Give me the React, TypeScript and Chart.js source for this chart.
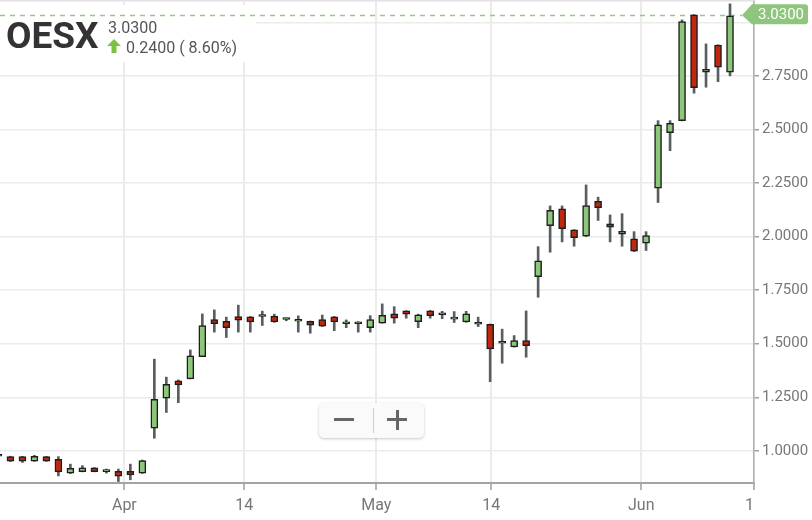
import React, { useEffect, useRef } from 'react';
import { Chart, registerables } from 'chart.js';

Chart.register(...registerables);

// ---- data ----
const symbol = 'OESX';
const lastPriceText = '3.0300';
const changeText = '0.2400 ( 8.60%)';

// candle index of the first value below (Apr 1 2019 = 0, trading days)
const firstIndex = -11;
const opens = [
  0.975, 0.973, 0.973, 0.952, 0.973, 0.961, 0.896, 0.903, 0.921, 0.903, 0.905,
  0.905, 0.896, 1.106, 1.246, 1.327, 1.336, 1.44, 1.613, 1.605, 1.627,
  1.625, 1.627, 1.629, 1.613, 1.605, 1.605, 1.613, 1.625, 1.593, 1.593,
  1.575, 1.596, 1.639, 1.653, 1.603, 1.653, 1.635, 1.615, 1.602, 1.591,
  1.591, 1.502, 1.485, 1.515, 1.813, 2.051, 2.129, 2.031, 2.002, 2.165,
  2.059, 2.011, 1.989, 1.969, 2.226, 2.485, 2.541, 3.035, 2.767, 2.894, 2.767,
];
const highs = [
  0.978, 0.975, 0.974, 0.979, 0.974, 0.973, 0.938, 0.931, 0.922, 0.915, 0.915,
  0.938, 0.957, 1.428, 1.344, 1.331, 1.471, 1.639, 1.658, 1.624, 1.68,
  1.627, 1.652, 1.638, 1.62, 1.63, 1.606, 1.634, 1.627, 1.611, 1.603,
  1.631, 1.686, 1.673, 1.654, 1.638, 1.655, 1.651, 1.65, 1.651, 1.624,
  1.592, 1.568, 1.538, 1.653, 1.953, 2.143, 2.143, 2.032, 2.241, 2.184,
  2.101, 2.107, 2.023, 2.023, 2.541, 2.541, 3.011, 3.036, 2.899, 2.895, 3.086,
];
const lows = [
  0.972, 0.95, 0.946, 0.951, 0.951, 0.883, 0.894, 0.902, 0.902, 0.896, 0.857,
  0.865, 0.895, 1.059, 1.179, 1.225, 1.336, 1.44, 1.554, 1.529, 1.554,
  1.554, 1.585, 1.6, 1.607, 1.554, 1.549, 1.58, 1.561, 1.575, 1.554,
  1.554, 1.596, 1.596, 1.619, 1.575, 1.619, 1.617, 1.599, 1.6, 1.58,
  1.323, 1.409, 1.484, 1.437, 1.717, 1.927, 1.975, 1.955, 2.0, 2.075,
  1.975, 1.955, 1.93, 1.935, 2.159, 2.401, 2.54, 2.669, 2.697, 2.723, 2.75,
];
const closes = [
  0.975, 0.952, 0.952, 0.975, 0.952, 0.902, 0.919, 0.921, 0.903, 0.903, 0.882,
  0.888, 0.955, 1.241, 1.311, 1.308, 1.443, 1.585, 1.594, 1.575, 1.61,
  1.602, 1.627, 1.602, 1.613, 1.605, 1.587, 1.582, 1.602, 1.593, 1.593,
  1.613, 1.633, 1.619, 1.638, 1.635, 1.631, 1.635, 1.615, 1.639, 1.591,
  1.476, 1.502, 1.515, 1.491, 1.887, 2.123, 2.037, 1.995, 2.145, 2.135,
  2.044, 2.025, 1.932, 2.005, 2.521, 2.529, 3.003, 2.695, 2.781, 2.79, 3.03,
];

const xTickPositions = [-0.5, 9.5, 20.5, 30.1, 42.6, 52];
const xTickLabels = ['Apr', '14', 'May', '14', 'Jun', '14'];
const yTickValues = [1.0, 1.25, 1.5, 1.75, 2.0, 2.25, 2.5, 2.75, 3.0];
const xMin = -10.87;
const xMax = 52;
const yMin = 0.85;
const yMax = 3.104;

// ---- styles ----
const UP = '#8cc77a';
const DOWN = '#c1270d';
const BORDER = '#1e1e1e';
const WICK = '#5a5e62';
const GRID = '#ebebeb';
const LABEL = '#777777';
const PRICE_BOX = '#8dc67c';
const PRICE_LINE = '#94cb83';
const FONT = 'Roboto, "Noto Sans", sans-serif';

const overlayPlugin = {
  id: 'overlay',
  beforeDatasetsDraw(chart: any) {
    const { ctx, chartArea, scales } = chart;
    ctx.save();
    // top frame line
    ctx.strokeStyle = '#e2e2e2';
    ctx.lineWidth = 1.5;
    ctx.beginPath();
    ctx.moveTo(chartArea.left, chartArea.top + 0.75);
    ctx.lineTo(chartArea.right, chartArea.top + 0.75);
    ctx.stroke();
    // title backdrop
    ctx.fillStyle = '#ffffff';
    ctx.fillRect(0, 5, 256, 57);
    // last price dashed line
    const last = closes[closes.length - 1];
    const yc = Math.round(scales.y.getPixelForValue(last)) - 0.5;
    ctx.strokeStyle = PRICE_LINE;
    ctx.lineWidth = 1.5;
    ctx.setLineDash([5, 5]);
    ctx.beginPath();
    ctx.moveTo(chartArea.left, yc);
    ctx.lineTo(chartArea.right - 12, yc);
    ctx.stroke();
    ctx.restore();
  },
  afterDraw(chart: any) {
    const { ctx, chartArea, scales, width } = chart;
    ctx.save();
    // x labels, clipped at the plot's right edge
    ctx.beginPath();
    ctx.rect(0, chartArea.bottom, chartArea.right, 60);
    ctx.clip();
    ctx.fillStyle = LABEL;
    ctx.font = '16px ' + FONT;
    ctx.textAlign = 'center';
    ctx.textBaseline = 'alphabetic';
    scales.x.ticks.forEach((t: any, i: number) => {
      const px = scales.x.getPixelForValue(t.value);
      ctx.fillText(xTickLabels[i], px, chartArea.bottom + 27);
    });
    ctx.restore();

    // last price tag
    ctx.save();
    const last = closes[closes.length - 1];
    const yc = scales.y.getPixelForValue(last);
    const cy = yc - 1.5;
    const left = chartArea.right - 12;
    const bodyL = chartArea.right - 2;
    const right = width - 4;
    const h = 10;
    const r = 3;
    ctx.fillStyle = PRICE_BOX;
    ctx.beginPath();
    ctx.moveTo(left, cy + 1);
    ctx.lineTo(bodyL, cy - h);
    ctx.lineTo(right - r, cy - h);
    ctx.quadraticCurveTo(right, cy - h, right, cy - h + r);
    ctx.lineTo(right, cy + h - r);
    ctx.quadraticCurveTo(right, cy + h, right - r, cy + h);
    ctx.lineTo(bodyL, cy + h);
    ctx.closePath();
    ctx.fill();
    ctx.fillStyle = '#ffffff';
    ctx.font = '15px ' + FONT;
    ctx.textAlign = 'center';
    ctx.textBaseline = 'middle';
    ctx.fillText(last.toFixed(4), (bodyL + right) / 2 + 1, cy + 1);
    ctx.restore();
  },
};

export default function App() {
  const canvasRef = useRef<HTMLCanvasElement | null>(null);

  useEffect(() => {
    const canvas = canvasRef.current;
    if (!canvas) return;
    const bodies = opens.map((o, i) => ({ x: firstIndex + i, y: [o, closes[i]] }));
    const wicks = lows.map((l, i) => ({ x: firstIndex + i, y: [l, highs[i]] }));
    const bodyColors = opens.map((o, i) => (closes[i] >= o ? UP : DOWN));

    const chart = new Chart(canvas, {
      type: 'bar',
      data: {
        datasets: [
          {
            label: 'body',
            data: bodies as any,
            backgroundColor: bodyColors,
            borderColor: BORDER,
            borderWidth: 1.5,
            borderSkipped: false,
            barThickness: 7,
            minBarLength: 2,
            grouped: false,
            order: 0,
          } as any,
          {
            label: 'wick',
            data: wicks as any,
            backgroundColor: WICK,
            borderWidth: 0,
            barThickness: 2,
            grouped: false,
            order: 1,
          } as any,
        ],
      },
      options: {
        animation: false,
        responsive: false,
        devicePixelRatio: 1,
        layout: { padding: 0 },
        plugins: {
          legend: { display: false },
          tooltip: { enabled: false },
        },
        events: [],
        scales: {
          x: {
            type: 'linear',
            min: xMin,
            max: xMax,
            offset: false,
            afterBuildTicks: (axis: any) => {
              axis.ticks = xTickPositions.map((v) => ({ value: v }));
            },
            afterFit: (axis: any) => {
              axis.height = 37;
              axis.paddingLeft = 0;
              axis.paddingRight = 0;
            },
            grid: {
              offset: false,
              color: GRID,
              lineWidth: 2,
              drawTicks: true,
              tickLength: 7,
              tickColor: '#b5b5b5',
            },
            border: { display: true, color: '#a3a3a3', width: 2 },
            ticks: { display: false },
          },
          y: {
            type: 'linear',
            position: 'right',
            min: yMin,
            max: yMax,
            afterBuildTicks: (axis: any) => {
              axis.ticks = yTickValues.map((v) => ({ value: v }));
            },
            afterFit: (axis: any) => {
              axis.width = 58;
              axis.paddingTop = 0;
              axis.paddingBottom = 0;
            },
            grid: {
              color: GRID,
              lineWidth: 1.5,
              tickLength: 5,
              tickColor: '#a0a0a0',
            },
            border: { display: true, color: '#b0b0b0', width: 1.5 },
            ticks: {
              padding: 3,
              color: LABEL,
              font: { family: FONT, size: 15 },
              callback: (v: any) => {
                const last = closes[closes.length - 1];
                return Math.abs(Number(v) - last) < 0.07 ? '' : Number(v).toFixed(4);
              },
            },
          },
        },
      },
      plugins: [overlayPlugin as any],
    });
    return () => chart.destroy();
  }, []);

  return (
    <div
      style={{
        position: 'fixed',
        left: 0,
        top: 0,
        width: 812,
        height: 520,
        background: '#ffffff',
        overflow: 'hidden',
        fontFamily: FONT,
      }}
    >
      <canvas ref={canvasRef} width={812} height={520} style={{ position: 'absolute', left: 0, top: 0 }} />
      <div
        style={{
          position: 'absolute',
          left: 6,
          top: 17,
          fontSize: 37,
          lineHeight: '37px',
          fontWeight: 700,
          color: '#333333',
          whiteSpace: 'nowrap',
        }}
      >
        {symbol}
      </div>
      <div
        style={{
          position: 'absolute',
          left: 108,
          top: 20,
          fontSize: 16,
          lineHeight: '16px',
          color: '#555555',
          whiteSpace: 'nowrap',
        }}
      >
        {lastPriceText}
      </div>
      <svg
        width={14}
        height={14}
        viewBox="0 0 14 14"
        style={{ position: 'absolute', left: 107, top: 39 }}
      >
        <polygon points="7,0 14,7 9.5,7 9.5,14 4.5,14 4.5,7 0,7" fill="#7cc242" />
      </svg>
      <div
        style={{
          position: 'absolute',
          left: 126,
          top: 40,
          fontSize: 16,
          lineHeight: '16px',
          color: '#555555',
          whiteSpace: 'nowrap',
        }}
      >
        {changeText}
      </div>
      <div
        style={{
          position: 'absolute',
          left: 319,
          top: 403,
          width: 105,
          height: 35,
          background: '#fafafa',
          borderRadius: 5,
          boxShadow: '0 1px 3px rgba(0,0,0,0.22)',
        }}
      >
        <div style={{ position: 'absolute', left: 15, top: 15, width: 20, height: 3, background: '#666' }} />
        <div style={{ position: 'absolute', left: 54, top: 5, width: 1, height: 25, background: '#d0d0d0' }} />
        <div style={{ position: 'absolute', left: 68, top: 15, width: 20, height: 3, background: '#666' }} />
        <div style={{ position: 'absolute', left: 76.5, top: 6.5, width: 3, height: 20, background: '#666' }} />
      </div>
    </div>
  );
}
